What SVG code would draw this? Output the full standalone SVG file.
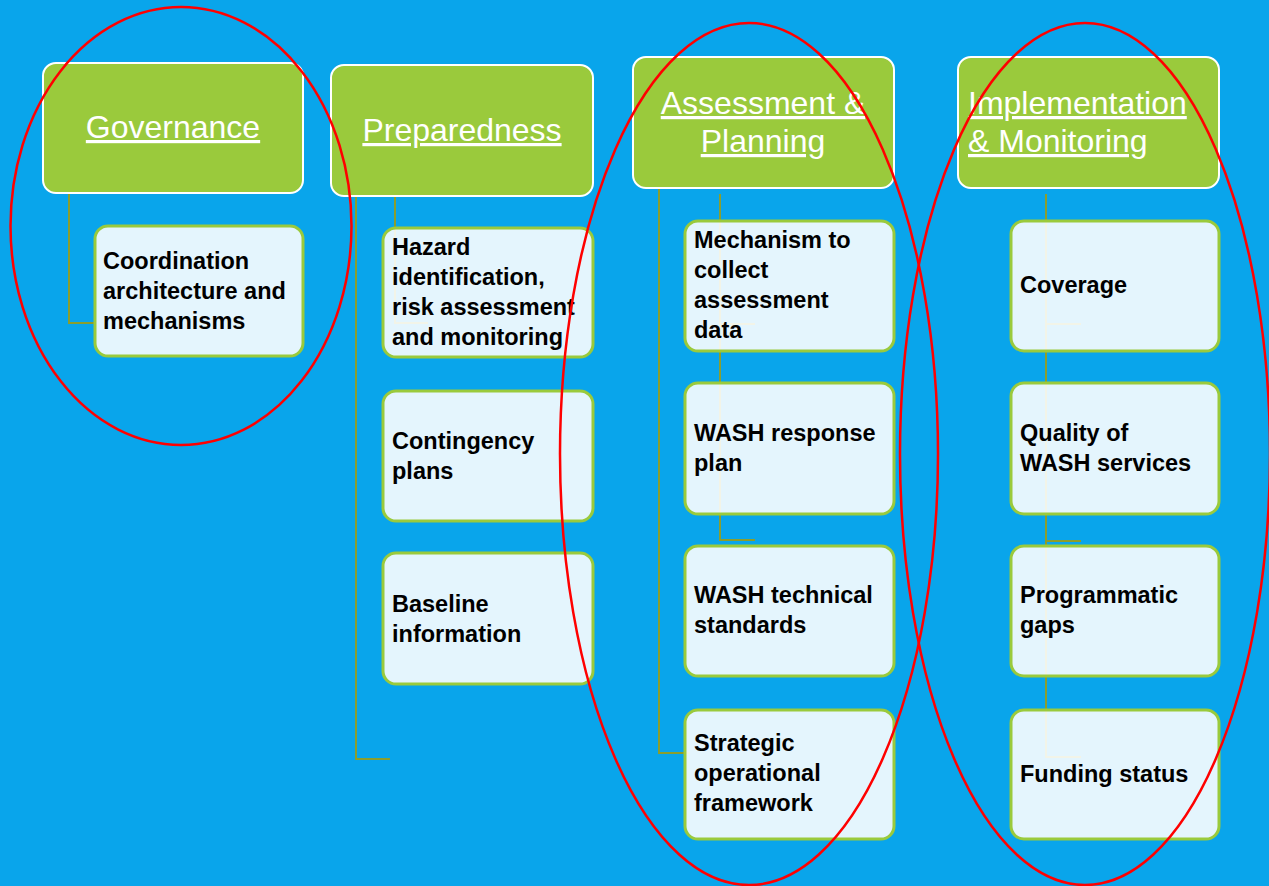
<svg xmlns="http://www.w3.org/2000/svg" width="1269" height="886" viewBox="0 0 1269 886">
  <style>
    .hdr { fill: #9ACA3C; stroke: #FFFFFF; stroke-width: 2; }
    .hdr-t { font-family: "Liberation Sans", Arial, sans-serif; font-size: 32px; fill: #FFFFFF; text-decoration: underline; }
    .box { fill: #FFFFFF; fill-opacity: 0.89; stroke: #9ACA3C; stroke-width: 3; }
    .box-t { font-family: "Liberation Sans", Arial, sans-serif; font-weight: bold; font-size: 23.5px; fill: #000000; }
    .conn { fill: none; stroke: #8A9E2E; stroke-width: 2; }
    .mark { fill: none; stroke: #FF0000; stroke-width: 2.5; }
  </style>

  <!-- background -->
  <rect x="0" y="0" width="1269" height="886" fill="#09A5EB"/>

  <!-- connectors (drawn under the boxes, showing faintly through their fills) -->
  <g id="connectors">
    <path class="conn" d="M69,193 V323 H95"/>
    <path class="conn" d="M356,196 V759 H390"/>
    <path class="conn" d="M395,197 V323 H428"/>
    <path class="conn" d="M659,188 V753 H690"/>
    <path class="conn" d="M720,194 V540 H755"/>
    <path class="conn" d="M720,324 H755"/>
    <path class="conn" d="M1046,194 V757 H1081"/>
    <path class="conn" d="M1046,324 H1081"/>
    <path class="conn" d="M1046,541 H1081"/>
  </g>

  <!-- Governance column -->
  <g id="governance">
    <rect class="hdr" x="43" y="63" width="260" height="130" rx="13"/>
    <text class="hdr-t" x="173" y="138" text-anchor="middle">Governance</text>
  </g>
  <g id="coordination">
    <rect class="box" x="95" y="226" width="208" height="130" rx="13"/>
    <text class="box-t" x="103" y="269">Coordination</text>
    <text class="box-t" x="103" y="299">architecture and</text>
    <text class="box-t" x="103" y="329">mechanisms</text>
  </g>

  <!-- Preparedness column -->
  <g id="preparedness">
    <rect class="hdr" x="331" y="65" width="262" height="131" rx="13"/>
    <text class="hdr-t" x="462" y="141" text-anchor="middle">Preparedness</text>
  </g>
  <g id="hazard">
    <rect class="box" x="383" y="228" width="210" height="129" rx="13"/>
    <text class="box-t" x="392" y="255">Hazard</text>
    <text class="box-t" x="392" y="285">identification,</text>
    <text class="box-t" x="392" y="315">risk assessment</text>
    <text class="box-t" x="392" y="345">and monitoring</text>
  </g>
  <g id="contingency">
    <rect class="box" x="383" y="391" width="210" height="130" rx="13"/>
    <text class="box-t" x="392" y="449">Contingency</text>
    <text class="box-t" x="392" y="479">plans</text>
  </g>
  <g id="baseline">
    <rect class="box" x="383" y="553" width="210" height="131" rx="13"/>
    <text class="box-t" x="392" y="612">Baseline</text>
    <text class="box-t" x="392" y="642">information</text>
  </g>

  <!-- Assessment & Planning column -->
  <g id="assessment">
    <rect class="hdr" x="633" y="57" width="261" height="131" rx="13"/>
    <text class="hdr-t" x="763" y="114" text-anchor="middle">Assessment &amp;</text>
    <text class="hdr-t" x="763" y="152" text-anchor="middle">Planning</text>
  </g>
  <g id="mechanism">
    <rect class="box" x="685" y="221" width="209" height="130" rx="13"/>
    <text class="box-t" x="694" y="248">Mechanism to</text>
    <text class="box-t" x="694" y="278">collect</text>
    <text class="box-t" x="694" y="308">assessment</text>
    <text class="box-t" x="694" y="338">data</text>
  </g>
  <g id="response-plan">
    <rect class="box" x="685" y="383" width="209" height="131" rx="13"/>
    <text class="box-t" x="694" y="441">WASH response</text>
    <text class="box-t" x="694" y="471">plan</text>
  </g>
  <g id="technical-standards">
    <rect class="box" x="685" y="546" width="209" height="130" rx="13"/>
    <text class="box-t" x="694" y="603">WASH technical</text>
    <text class="box-t" x="694" y="633">standards</text>
  </g>
  <g id="strategic-framework">
    <rect class="box" x="685" y="710" width="209" height="129" rx="13"/>
    <text class="box-t" x="694" y="751">Strategic</text>
    <text class="box-t" x="694" y="781">operational</text>
    <text class="box-t" x="694" y="811">framework</text>
  </g>

  <!-- Implementation & Monitoring column -->
  <g id="implementation">
    <rect class="hdr" x="958" y="57" width="261" height="131" rx="13"/>
    <text class="hdr-t" x="968" y="114">Implementation</text>
    <text class="hdr-t" x="968" y="152">&amp; Monitoring</text>
  </g>
  <g id="coverage">
    <rect class="box" x="1011" y="221" width="208" height="130" rx="13"/>
    <text class="box-t" x="1020" y="293">Coverage</text>
  </g>
  <g id="quality">
    <rect class="box" x="1011" y="383" width="208" height="131" rx="13"/>
    <text class="box-t" x="1020" y="441">Quality of</text>
    <text class="box-t" x="1020" y="471">WASH services</text>
  </g>
  <g id="programmatic-gaps">
    <rect class="box" x="1011" y="546" width="208" height="130" rx="13"/>
    <text class="box-t" x="1020" y="603">Programmatic</text>
    <text class="box-t" x="1020" y="633">gaps</text>
  </g>
  <g id="funding">
    <rect class="box" x="1011" y="710" width="208" height="129" rx="13"/>
    <text class="box-t" x="1020" y="782">Funding status</text>
  </g>

  <!-- hand-drawn highlight ellipses -->
  <g id="highlights">
    <ellipse class="mark" cx="181" cy="226" rx="170.5" ry="219"/>
    <ellipse class="mark" cx="749" cy="454" rx="189" ry="431"/>
    <ellipse class="mark" cx="1085" cy="454" rx="185" ry="431"/>
  </g>
</svg>
